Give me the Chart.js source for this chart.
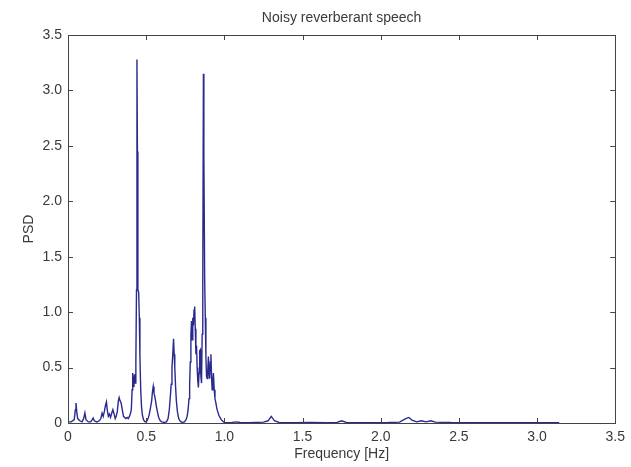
<!DOCTYPE html>
<html lang="en">
<head>
    <meta charset="UTF-8">
    <title>Noisy reverberant speech</title>
    <script src="https://cdn.jsdelivr.net/npm/chart.js"></script>
    <style>
        html, body {
            margin: 0;
            padding: 0;
            background: #fff;
        }
        #wrap {
            width: 631px;
            height: 467px;
        }
    </style>
</head>
<body>
    <div id="wrap"><canvas id="psdChart" width="631" height="467"></canvas></div>

    <script>
        // frequency bins (Hz) and PSD
        const freqHz = [
            0.000, 0.020, 0.040, 0.047, 0.051, 0.056, 0.062, 0.075, 0.090, 0.100,
            0.108, 0.115, 0.130, 0.145, 0.155, 0.161, 0.168, 0.185, 0.200, 0.210,
            0.218, 0.225, 0.232, 0.240, 0.246, 0.252, 0.258, 0.265, 0.272, 0.280,
            0.287, 0.295, 0.302, 0.308, 0.315, 0.322, 0.327, 0.333, 0.340, 0.347,
            0.355, 0.362, 0.370, 0.378, 0.385, 0.393, 0.400, 0.405, 0.410, 0.414,
            0.418, 0.422, 0.426, 0.430, 0.434, 0.438, 0.441, 0.444, 0.447, 0.452,
            0.456, 0.460, 0.465, 0.470, 0.476, 0.483, 0.490, 0.498, 0.505, 0.512,
            0.520, 0.528, 0.535, 0.540, 0.545, 0.550, 0.555, 0.560, 0.565, 0.572,
            0.580, 0.590, 0.600, 0.615, 0.630, 0.640, 0.648, 0.655, 0.660, 0.665,
            0.670, 0.675, 0.679, 0.683, 0.688, 0.693, 0.700, 0.708, 0.718, 0.730,
            0.745, 0.755, 0.762, 0.768, 0.774, 0.778, 0.782, 0.786, 0.790, 0.794,
            0.798, 0.802, 0.806, 0.810, 0.814, 0.818, 0.822, 0.826, 0.830, 0.834,
            0.838, 0.842, 0.846, 0.850, 0.854, 0.858, 0.862, 0.866, 0.869, 0.874,
            0.878, 0.882, 0.886, 0.890, 0.894, 0.898, 0.902, 0.906, 0.910, 0.914,
            0.918, 0.922, 0.926, 0.930, 0.935, 0.940, 0.946, 0.952, 0.958, 0.965,
            0.972, 0.980, 0.990, 1.000, 1.020, 1.050, 1.080, 1.100, 1.150, 1.200,
            1.250, 1.280, 1.300, 1.320, 1.350, 1.450, 1.550, 1.650, 1.720, 1.750,
            1.780, 1.900, 2.050, 2.120, 2.160, 2.180, 2.200, 2.230, 2.260, 2.290,
            2.320, 2.350, 2.450, 2.600, 2.800, 3.000, 3.1416
        ];
        const psd = [
            0.010, 0.010, 0.030, 0.120, 0.180, 0.100, 0.040, 0.020, 0.010, 0.040,
            0.090, 0.030, 0.010, 0.010, 0.030, 0.045, 0.020, 0.010, 0.020, 0.040,
            0.090, 0.060, 0.100, 0.160, 0.190, 0.110, 0.060, 0.080, 0.050, 0.090,
            0.120, 0.080, 0.040, 0.060, 0.100, 0.200, 0.230, 0.200, 0.180, 0.120,
            0.060, 0.050, 0.040, 0.050, 0.040, 0.060, 0.090, 0.120, 0.300, 0.450,
            0.330, 0.380, 0.440, 0.360, 0.550, 1.200, 3.280, 2.450, 1.200, 1.180,
            0.950, 0.600, 0.300, 0.150, 0.070, 0.030, 0.015, 0.010, 0.020, 0.040,
            0.080, 0.140, 0.200, 0.280, 0.330, 0.270, 0.240, 0.200, 0.150, 0.100,
            0.050, 0.020, 0.010, 0.005, 0.010, 0.040, 0.120, 0.250, 0.350, 0.500,
            0.620, 0.760, 0.620, 0.500, 0.330, 0.200, 0.100, 0.040, 0.015, 0.005,
            0.010, 0.030, 0.060, 0.120, 0.220, 0.350, 0.550, 0.800, 0.920, 0.750,
            0.950, 0.880, 1.020, 1.050, 0.850, 0.620, 0.700, 0.500, 0.380, 0.320,
            0.450, 0.650, 0.660, 0.420, 0.360, 0.800, 1.300, 3.150, 2.400, 1.300,
            0.950, 0.600, 0.420, 0.400, 0.480, 0.600, 0.450, 0.400, 0.550, 0.620,
            0.420, 0.300, 0.380, 0.450, 0.300, 0.220, 0.180, 0.130, 0.100, 0.070,
            0.050, 0.030, 0.015, 0.005, 0.003, 0.005, 0.010, 0.004, 0.003, 0.005,
            0.008, 0.020, 0.060, 0.020, 0.005, 0.003, 0.004, 0.003, 0.005, 0.020,
            0.005, 0.003, 0.004, 0.008, 0.040, 0.050, 0.025, 0.010, 0.020, 0.010,
            0.020, 0.008, 0.004, 0.003, 0.003, 0.002, 0.002
        ];
        const xTicks = [0, 0.5, 1, 1.5, 2, 2.5, 3, 3.5];
        const yTicks = [0, 0.5, 1, 1.5, 2, 2.5, 3, 3.5];

        const titleText = 'Noisy reverberant speech';
        const xLabel = 'Frequency [Hz]';
        const yLabel = 'PSD';

        const textColor = '#3a3a3a';
        const frameColor = '#444';
        const lineColor = '#2a2a8e';
        const fontFamily = '"Liberation Sans", Arial, sans-serif';

        // matlab style box, inward ticks on all four sides, and the text
        const matlabFrame = {
            id: 'matlabFrame',
            afterDraw(chart) {
                const ctx = chart.ctx;
                const { left, right, top, bottom } = chart.chartArea;
                const x = chart.scales.x;
                const y = chart.scales.y;
                const tick = 5;

                ctx.save();
                ctx.strokeStyle = frameColor;
                ctx.lineWidth = 1;
                ctx.strokeRect(Math.round(left) + 0.5, Math.round(top) + 0.5,
                    Math.round(right - left), Math.round(bottom - top));

                ctx.beginPath();
                xTicks.forEach(v => {
                    const px = Math.round(x.getPixelForValue(v)) + 0.5;
                    ctx.moveTo(px, bottom);
                    ctx.lineTo(px, bottom - tick);
                    ctx.moveTo(px, top);
                    ctx.lineTo(px, top + tick);
                });
                yTicks.forEach(v => {
                    const py = Math.round(y.getPixelForValue(v)) + 0.5;
                    ctx.moveTo(left, py);
                    ctx.lineTo(left + tick, py);
                    ctx.moveTo(right, py);
                    ctx.lineTo(right - tick, py);
                });
                ctx.stroke();

                ctx.fillStyle = textColor;
                ctx.font = '14px ' + fontFamily;
                ctx.textAlign = 'center';
                ctx.textBaseline = 'middle';
                ctx.fillText(titleText, (left + right) / 2, 18);
                ctx.fillText(xLabel, (left + right) / 2, 454);

                ctx.translate(29, (top + bottom) / 2);
                ctx.rotate(-Math.PI / 2);
                ctx.fillText(yLabel, 0, 0);
                ctx.restore();
            }
        };

        const ctx = document.getElementById('psdChart').getContext('2d');
        new Chart(ctx, {
            type: 'line',
            data: {
                datasets: [{
                    label: 'PSD',
                    data: freqHz.map((f, i) => ({ x: f, y: psd[i] })),
                    borderColor: lineColor,
                    borderWidth: 1.4,
                    pointRadius: 0,
                    fill: false,
                    tension: 0
                }]
            },
            options: {
                responsive: false,
                animation: false,
                layout: { padding: { top: 35, right: 13, left: 0, bottom: 0 } },
                scales: {
                    x: {
                        type: 'linear',
                        min: 0,
                        max: 3.5,
                        afterFit: s => { s.height = 44; },
                        afterBuildTicks: s => { s.ticks = xTicks.map(v => ({ value: v })); },
                        grid: { display: false, drawTicks: false },
                        border: { display: false },
                        ticks: {
                            padding: 6,
                            color: textColor,
                            font: { family: fontFamily, size: 14 }
                        }
                    },
                    y: {
                        min: 0,
                        max: 3.5,
                        afterFit: s => { s.width = 68; },
                        afterBuildTicks: s => { s.ticks = yTicks.map(v => ({ value: v })); },
                        grid: { display: false, drawTicks: false },
                        border: { display: false },
                        ticks: {
                            padding: 6,
                            color: textColor,
                            font: { family: fontFamily, size: 14 }
                        }
                    }
                },
                plugins: {
                    legend: { display: false },
                    title: { display: false },
                    tooltip: { enabled: false }
                }
            },
            plugins: [matlabFrame]
        });
    </script>
</body>
</html>
